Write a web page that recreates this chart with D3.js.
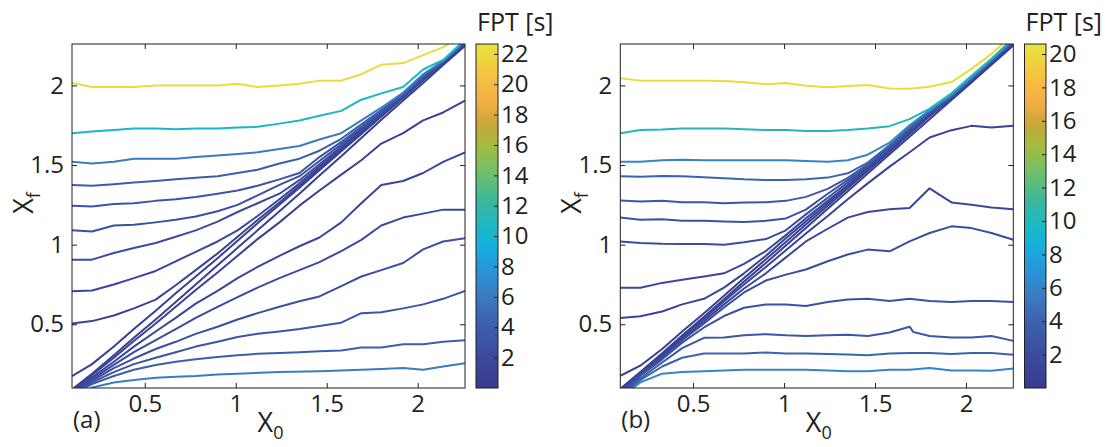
<!DOCTYPE html>
<html>
<head>
<meta charset="utf-8">
<script src="https://cdn.jsdelivr.net/npm/d3@7"></script>
<style>
  body { margin: 0; background: #fff; }
  svg text { font-family: "Open Sans", sans-serif; fill: #231f20; }
</style>
</head>
<body>
<svg id="fig" width="1113" height="447"></svg>
<script>
// ---- data: contour lines [X0, Xf] ----
// panel (a): upper branches (start on left edge) and their FPT levels
const aUpperLevels = [22, 10.5, 6, 4, 3, 2.5, 2, 1.5, 1, 0.5];
const aUpper = [
  [[0.10,2.015],[0.21,1.99],[0.33,1.99],[0.44,1.99],[0.56,2.00],[0.67,2.00],[0.78,2.00],[0.90,2.00],[1.01,2.01],[1.12,1.99],[1.24,2.00],[1.35,2.01],[1.46,2.03],[1.58,2.03],[1.69,2.07],[1.80,2.13],[1.92,2.14],[2.03,2.19],[2.14,2.24],[2.17,2.26]],
  [[0.10,1.70],[0.21,1.71],[0.33,1.72],[0.44,1.73],[0.56,1.73],[0.67,1.725],[0.78,1.73],[0.90,1.73],[1.01,1.735],[1.12,1.74],[1.24,1.76],[1.35,1.78],[1.46,1.81],[1.58,1.84],[1.69,1.91],[1.80,1.95],[1.92,1.99],[2.03,2.10],[2.14,2.16],[2.235,2.26]],
  [[0.10,1.52],[0.21,1.51],[0.33,1.52],[0.44,1.54],[0.56,1.54],[0.67,1.54],[0.78,1.55],[0.90,1.56],[1.01,1.57],[1.12,1.58],[1.24,1.60],[1.35,1.62],[1.46,1.66],[1.58,1.70],[1.69,1.78],[1.80,1.86],[1.92,1.955],[2.03,2.07],[2.14,2.155],[2.24,2.26]],
  [[0.10,1.375],[0.21,1.37],[0.33,1.38],[0.44,1.39],[0.56,1.40],[0.67,1.41],[0.78,1.42],[0.90,1.43],[1.01,1.45],[1.12,1.47],[1.24,1.51],[1.35,1.54],[1.46,1.59],[1.58,1.665],[1.69,1.755],[1.80,1.845],[1.92,1.945],[2.03,2.06],[2.14,2.152],[2.244,2.26]],
  [[0.10,1.245],[0.21,1.24],[0.33,1.256],[0.44,1.26],[0.56,1.275],[0.67,1.285],[0.78,1.30],[0.90,1.32],[1.01,1.34],[1.12,1.37],[1.24,1.41],[1.35,1.45],[1.46,1.55],[1.58,1.645],[1.69,1.74],[1.80,1.835],[1.92,1.94],[2.03,2.055],[2.14,2.15],[2.248,2.26]],
  [[0.10,1.09],[0.21,1.083],[0.33,1.12],[0.44,1.125],[0.56,1.14],[0.67,1.156],[0.78,1.177],[0.90,1.21],[1.01,1.25],[1.12,1.31],[1.24,1.375],[1.35,1.43],[1.46,1.525],[1.58,1.63],[1.69,1.73],[1.80,1.828],[1.92,1.935],[2.03,2.05],[2.14,2.148],[2.251,2.26]],
  [[0.10,0.906],[0.21,0.906],[0.33,0.948],[0.44,0.979],[0.56,1.01],[0.67,1.05],[0.78,1.09],[0.90,1.145],[1.01,1.205],[1.12,1.26],[1.24,1.32],[1.35,1.405],[1.46,1.505],[1.58,1.615],[1.69,1.72],[1.80,1.822],[1.92,1.93],[2.03,2.045],[2.14,2.146],[2.254,2.26]],
  [[0.10,0.708],[0.21,0.712],[0.33,0.75],[0.44,0.79],[0.56,0.835],[0.67,0.895],[0.78,0.955],[0.90,1.02],[1.01,1.09],[1.12,1.18],[1.24,1.285],[1.35,1.385],[1.46,1.49],[1.58,1.605],[1.69,1.71],[1.80,1.816],[1.92,1.927],[2.03,2.04],[2.14,2.144],[2.256,2.26]],
  [[0.10,0.505],[0.21,0.52],[0.33,0.555],[0.44,0.60],[0.56,0.655],[0.67,0.745],[0.78,0.84],[0.90,0.945],[1.01,1.05],[1.12,1.155],[1.24,1.265],[1.35,1.37],[1.46,1.478],[1.58,1.595],[1.69,1.70],[1.80,1.81],[1.92,1.924],[2.03,2.036],[2.14,2.142],[2.258,2.26]],
  [[0.10,0.175],[0.21,0.25],[0.33,0.36],[0.44,0.47],[0.56,0.585],[0.67,0.695],[0.78,0.80],[0.90,0.915],[1.01,1.025],[1.12,1.135],[1.24,1.25],[1.35,1.358],[1.46,1.467],[1.58,1.587],[1.69,1.695],[1.80,1.805],[1.92,1.922],[2.03,2.032],[2.14,2.141],[2.26,2.26]]
];
// panel (a): lower branches (start near bottom-left corner)
const aLowerLevels = [0.5, 1, 1.5, 2, 2.5, 3, 4, 6];
const aLower = [
  [[0.11,0.10],[0.21,0.19],[0.33,0.305],[0.44,0.415],[0.56,0.53],[0.67,0.64],[0.78,0.75],[0.90,0.87],[1.01,0.98],[1.12,1.09],[1.24,1.21],[1.35,1.32],[1.46,1.435],[1.58,1.555],[1.69,1.67],[1.80,1.785],[1.92,1.905],[2.03,2.015],[2.14,2.128],[2.26,2.248]],
  [[0.12,0.10],[0.21,0.18],[0.33,0.29],[0.44,0.395],[0.56,0.505],[0.67,0.61],[0.78,0.715],[0.90,0.825],[1.01,0.93],[1.12,1.035],[1.24,1.14],[1.35,1.245],[1.46,1.34],[1.58,1.44],[1.69,1.53],[1.80,1.635],[1.92,1.70],[2.03,1.78],[2.14,1.83],[2.26,1.905]],
  [[0.13,0.10],[0.21,0.165],[0.33,0.265],[0.44,0.36],[0.56,0.455],[0.67,0.54],[0.78,0.63],[0.90,0.71],[1.01,0.79],[1.12,0.86],[1.24,0.93],[1.35,0.99],[1.46,1.045],[1.58,1.14],[1.69,1.26],[1.80,1.375],[1.92,1.40],[2.03,1.45],[2.14,1.52],[2.26,1.58]],
  [[0.14,0.10],[0.21,0.155],[0.33,0.245],[0.44,0.325],[0.56,0.40],[0.67,0.47],[0.78,0.54],[0.90,0.61],[1.01,0.67],[1.12,0.73],[1.24,0.79],[1.35,0.84],[1.46,0.89],[1.58,0.96],[1.69,1.03],[1.80,1.12],[1.92,1.17],[2.03,1.195],[2.14,1.22],[2.26,1.22]],
  [[0.15,0.10],[0.21,0.145],[0.33,0.225],[0.44,0.285],[0.56,0.345],[0.67,0.39],[0.78,0.44],[0.90,0.485],[1.01,0.53],[1.12,0.57],[1.24,0.61],[1.35,0.645],[1.46,0.675],[1.58,0.74],[1.69,0.80],[1.80,0.84],[1.92,0.885],[2.03,0.97],[2.14,1.02],[2.26,1.04]],
  [[0.16,0.10],[0.21,0.135],[0.33,0.20],[0.44,0.25],[0.56,0.29],[0.67,0.325],[0.78,0.36],[0.90,0.39],[1.01,0.42],[1.12,0.44],[1.24,0.455],[1.35,0.47],[1.46,0.49],[1.58,0.51],[1.69,0.57],[1.80,0.575],[1.92,0.60],[2.03,0.625],[2.14,0.66],[2.26,0.71]],
  [[0.17,0.10],[0.21,0.125],[0.33,0.175],[0.44,0.215],[0.56,0.245],[0.67,0.265],[0.78,0.28],[0.90,0.295],[1.01,0.305],[1.12,0.315],[1.24,0.32],[1.35,0.325],[1.46,0.33],[1.58,0.335],[1.69,0.355],[1.80,0.355],[1.92,0.375],[2.03,0.375],[2.14,0.39],[2.26,0.40]],
  [[0.20,0.10],[0.33,0.135],[0.44,0.15],[0.56,0.165],[0.67,0.17],[0.78,0.175],[0.90,0.185],[1.01,0.19],[1.24,0.20],[1.46,0.205],[1.58,0.21],[1.80,0.22],[1.92,0.225],[2.03,0.215],[2.14,0.235],[2.26,0.255]]
];

// panel (b)
const bUpperLevels = [20, 10, 6, 4, 3, 2.5, 2, 1.5, 1, 0.5];
const bUpper = [
  [[0.10,2.045],[0.21,2.03],[0.33,2.03],[0.44,2.03],[0.56,2.03],[0.67,2.027],[0.78,2.02],[0.90,2.008],[1.01,2.015],[1.12,1.998],[1.24,1.988],[1.35,1.996],[1.46,2.002],[1.58,1.981],[1.69,1.979],[1.80,1.992],[1.92,2.021],[2.03,2.104],[2.14,2.198],[2.20,2.26]],
  [[0.10,1.70],[0.21,1.72],[0.33,1.723],[0.44,1.73],[0.56,1.73],[0.67,1.73],[0.78,1.725],[0.90,1.72],[1.01,1.72],[1.12,1.713],[1.24,1.713],[1.35,1.72],[1.46,1.73],[1.58,1.744],[1.69,1.788],[1.80,1.854],[1.92,1.95],[2.03,2.06],[2.14,2.167],[2.225,2.26]],
  [[0.10,1.52],[0.21,1.52],[0.33,1.53],[0.44,1.533],[0.56,1.53],[0.67,1.53],[0.78,1.53],[0.90,1.53],[1.01,1.53],[1.12,1.525],[1.24,1.52],[1.35,1.53],[1.46,1.565],[1.58,1.64],[1.69,1.75],[1.80,1.845],[1.92,1.94],[2.03,2.05],[2.14,2.16],[2.235,2.26]],
  [[0.10,1.43],[0.21,1.427],[0.33,1.431],[0.44,1.43],[0.56,1.423],[0.67,1.417],[0.78,1.41],[0.90,1.406],[1.01,1.406],[1.12,1.41],[1.24,1.421],[1.35,1.448],[1.46,1.515],[1.58,1.625],[1.69,1.74],[1.80,1.838],[1.92,1.936],[2.03,2.046],[2.14,2.156],[2.24,2.26]],
  [[0.10,1.277],[0.21,1.271],[0.33,1.275],[0.44,1.267],[0.56,1.267],[0.67,1.26],[0.78,1.265],[0.90,1.267],[1.01,1.275],[1.12,1.30],[1.24,1.35],[1.35,1.42],[1.46,1.505],[1.58,1.615],[1.69,1.73],[1.80,1.832],[1.92,1.933],[2.03,2.043],[2.14,2.153],[2.243,2.26]],
  [[0.10,1.17],[0.21,1.156],[0.33,1.16],[0.44,1.15],[0.56,1.15],[0.67,1.145],[0.78,1.142],[0.90,1.15],[1.01,1.165],[1.12,1.22],[1.24,1.32],[1.35,1.405],[1.46,1.495],[1.58,1.605],[1.69,1.722],[1.80,1.827],[1.92,1.93],[2.03,2.04],[2.14,2.15],[2.246,2.26]],
  [[0.10,1.02],[0.21,1.01],[0.33,1.005],[0.44,1.004],[0.56,1.004],[0.67,1.0],[0.78,1.015],[0.90,1.035],[1.01,1.09],[1.12,1.19],[1.24,1.295],[1.35,1.39],[1.46,1.487],[1.58,1.598],[1.69,1.715],[1.80,1.822],[1.92,1.927],[2.03,2.037],[2.14,2.147],[2.249,2.26]],
  [[0.10,0.73],[0.21,0.73],[0.33,0.76],[0.44,0.78],[0.56,0.80],[0.67,0.82],[0.78,0.88],[0.90,0.96],[1.01,1.06],[1.12,1.165],[1.24,1.275],[1.35,1.375],[1.46,1.478],[1.58,1.592],[1.69,1.708],[1.80,1.817],[1.92,1.925],[2.03,2.035],[2.14,2.145],[2.252,2.26]],
  [[0.10,0.54],[0.21,0.55],[0.33,0.58],[0.44,0.625],[0.56,0.66],[0.67,0.73],[0.78,0.82],[0.90,0.93],[1.01,1.04],[1.12,1.145],[1.24,1.26],[1.35,1.365],[1.46,1.47],[1.58,1.588],[1.69,1.702],[1.80,1.812],[1.92,1.923],[2.03,2.033],[2.14,2.143],[2.255,2.26]],
  [[0.10,0.177],[0.21,0.24],[0.33,0.345],[0.44,0.455],[0.56,0.57],[0.67,0.68],[0.78,0.79],[0.90,0.908],[1.01,1.017],[1.12,1.126],[1.24,1.245],[1.35,1.355],[1.46,1.464],[1.58,1.584],[1.69,1.695],[1.80,1.806],[1.92,1.921],[2.03,2.031],[2.14,2.141],[2.26,2.26]]
];
const bLowerLevels = [0.5, 1, 1.5, 2, 2.5, 3, 4, 6];
const bLower = [
  [[0.105,0.10],[0.21,0.20],[0.33,0.318],[0.44,0.43],[0.56,0.548],[0.67,0.657],[0.78,0.768],[0.90,0.885],[1.01,0.995],[1.12,1.105],[1.24,1.225],[1.35,1.335],[1.46,1.447],[1.58,1.567],[1.69,1.678],[1.80,1.788],[1.92,1.908],[2.03,2.018],[2.14,2.13],[2.26,2.25]],
  [[0.11,0.10],[0.21,0.195],[0.33,0.31],[0.44,0.42],[0.56,0.535],[0.67,0.645],[0.78,0.75],[0.90,0.86],[1.01,0.965],[1.12,1.07],[1.24,1.18],[1.35,1.285],[1.46,1.385],[1.58,1.49],[1.69,1.58],[1.80,1.673],[1.92,1.719],[2.03,1.746],[2.14,1.735],[2.26,1.746]],
  [[0.12,0.10],[0.21,0.19],[0.33,0.30],[0.44,0.41],[0.56,0.52],[0.67,0.625],[0.78,0.725],[0.90,0.82],[1.01,0.92],[1.12,1.02],[1.24,1.10],[1.35,1.17],[1.46,1.205],[1.58,1.222],[1.69,1.23],[1.80,1.354],[1.92,1.265],[2.03,1.25],[2.14,1.233],[2.26,1.223]],
  [[0.13,0.10],[0.21,0.185],[0.33,0.29],[0.44,0.40],[0.56,0.505],[0.67,0.605],[0.78,0.70],[0.90,0.775],[1.01,0.812],[1.12,0.844],[1.24,0.896],[1.35,0.938],[1.46,0.969],[1.58,0.958],[1.69,1.021],[1.80,1.073],[1.92,1.115],[2.03,1.104],[2.14,1.073],[2.26,1.031]],
  [[0.14,0.10],[0.21,0.175],[0.33,0.28],[0.44,0.385],[0.56,0.48],[0.67,0.552],[0.78,0.604],[0.90,0.625],[1.01,0.625],[1.12,0.615],[1.24,0.64],[1.35,0.656],[1.46,0.66],[1.58,0.646],[1.69,0.66],[1.80,0.646],[1.92,0.64],[2.03,0.646],[2.14,0.646],[2.26,0.64]],
  [[0.15,0.10],[0.21,0.16],[0.33,0.26],[0.44,0.35],[0.56,0.415],[0.67,0.417],[0.78,0.431],[0.90,0.438],[1.01,0.431],[1.12,0.427],[1.24,0.431],[1.35,0.435],[1.46,0.427],[1.58,0.448],[1.69,0.485],[1.71,0.452],[1.80,0.427],[1.92,0.417],[2.03,0.417],[2.14,0.427],[2.26,0.396]],
  [[0.16,0.10],[0.21,0.15],[0.33,0.235],[0.44,0.29],[0.56,0.317],[0.67,0.317],[0.78,0.317],[0.90,0.323],[1.01,0.317],[1.12,0.317],[1.24,0.313],[1.35,0.31],[1.46,0.306],[1.58,0.317],[1.69,0.319],[1.80,0.319],[1.92,0.313],[2.03,0.319],[2.14,0.319],[2.26,0.309]],
  [[0.17,0.10],[0.21,0.135],[0.33,0.19],[0.44,0.20],[0.56,0.205],[0.67,0.21],[0.78,0.215],[0.90,0.215],[1.01,0.215],[1.12,0.215],[1.24,0.21],[1.35,0.205],[1.46,0.205],[1.58,0.215],[1.69,0.215],[1.80,0.225],[1.92,0.21],[2.03,0.21],[2.14,0.208],[2.26,0.222]]
];

// ticks
const axisTicks = [0.5, 1, 1.5, 2];
const cbTicksA = [2, 4, 6, 8, 10, 12, 14, 16, 18, 20, 22];
const cbTicksB = [2, 4, 6, 8, 10, 12, 14, 16, 18, 20];

// colour map (parula-like, as printed)
const cmapStops = [0, 0.09, 0.18, 0.27, 0.35, 0.41, 0.46, 0.54, 0.62, 0.70, 0.77, 0.83, 0.90, 1];
const cmapColors = ["#383b8e", "#3b4a9d", "#3b5fab", "#3c7cc2", "#2597d9", "#17afde", "#19b7c9",
                    "#39b89e", "#6cbf6c", "#a0bd42", "#c9a739", "#f4ad45", "#f6c042", "#e8e43c"];
const cmap = d3.scaleLinear().domain(cmapStops).range(cmapColors).interpolate(d3.interpolateRgb).clamp(true);

const svg = d3.select("#fig");
const defs = svg.append("defs");

// gradient for colour bars
const grad = defs.append("linearGradient").attr("id", "cbgrad")
  .attr("x1", 0).attr("y1", 1).attr("x2", 0).attr("y2", 0);
d3.range(0, 1.0001, 0.02).forEach(t => {
  grad.append("stop").attr("offset", t).attr("stop-color", cmap(t));
});

const plotTop = 44, plotBottom = 388;
const y = d3.scaleLinear().domain([0.1, 2.26]).range([plotBottom, plotTop]);

function drawPanel(p) {
  const x = d3.scaleLinear().domain([0.1, 2.26]).range([p.left, p.right]);
  const g = svg.append("g");

  defs.append("clipPath").attr("id", "clip" + p.tag)
    .append("rect").attr("x", p.left).attr("y", plotTop)
    .attr("width", p.right - p.left).attr("height", plotBottom - plotTop);

  const line = d3.line().x(d => x(d[0])).y(d => y(d[1]));
  const c = v => cmap(v / p.cbMax);

  const lines = g.append("g").attr("clip-path", `url(#clip${p.tag})`);
  const all = p.lower.map((pts, i) => ({ pts, lev: p.lowerLevels[i] }))
    .concat(p.upper.map((pts, i) => ({ pts, lev: p.upperLevels[i] })))
    .sort((a, b) => a.lev - b.lev);
  lines.selectAll("path").data(all).join("path")
    .attr("d", d => line(d.pts))
    .attr("fill", "none")
    .attr("stroke", d => c(d.lev))
    .attr("stroke-width", 2)
    .attr("stroke-linejoin", "round");

  // box
  g.append("rect").attr("x", p.left).attr("y", plotTop)
    .attr("width", p.right - p.left).attr("height", plotBottom - plotTop)
    .attr("fill", "none").attr("stroke", "#231f20").attr("stroke-width", 1);

  const fmt = d => String(d);
  const style = sel => {
    sel.select(".domain").remove();
    sel.selectAll(".tick line").attr("stroke", "#231f20");
    sel.selectAll(".tick text").attr("fill", "#231f20")
      .style("font-family", '"Open Sans", sans-serif').style("font-size", "24px");
  };
  g.append("g").attr("transform", `translate(0,${plotBottom})`)
    .call(d3.axisBottom(x).tickValues(axisTicks).tickFormat(fmt).tickSize(-5).tickPadding(7)).call(style);
  g.append("g").attr("transform", `translate(0,${plotTop})`)
    .call(d3.axisTop(x).tickValues(axisTicks).tickFormat("").tickSize(-5)).call(style);
  g.append("g").attr("transform", `translate(${p.left},0)`)
    .call(d3.axisLeft(y).tickValues(axisTicks).tickFormat(fmt).tickSize(-5).tickPadding(8)).call(style);
  g.append("g").attr("transform", `translate(${p.right},0)`)
    .call(d3.axisRight(y).tickValues(axisTicks).tickFormat("").tickSize(-5)).call(style);

  // axis labels
  const xl = g.append("text").attr("x", (p.left + p.right) / 2 + 2).attr("y", 432)
    .attr("text-anchor", "middle").style("font-size", "27px");
  xl.append("tspan").text("X");
  xl.append("tspan").attr("dy", 7).style("font-size", "18px").text("0");

  const yl = g.append("text")
    .attr("transform", `translate(${p.left - 39},${203}) rotate(-90)`)
    .attr("text-anchor", "middle").style("font-size", "27px");
  yl.append("tspan").text("X");
  yl.append("tspan").attr("dy", 7).style("font-size", "18px").text("f");

  g.append("text").attr("x", p.left + 1).attr("y", 428)
    .style("font-size", "24px").text(p.tag === "a" ? "(a)" : "(b)");

  // colour bar
  const cy = d3.scaleLinear().domain([0, p.cbMax]).range([plotBottom, plotTop]);
  g.append("rect").attr("x", p.cbLeft).attr("y", plotTop)
    .attr("width", p.cbWidth).attr("height", plotBottom - plotTop)
    .attr("fill", "url(#cbgrad)").attr("stroke", "#231f20").attr("stroke-width", 1);
  g.append("g").attr("transform", `translate(${p.cbLeft + p.cbWidth},0)`)
    .call(d3.axisRight(cy).tickValues(p.cbTicks).tickFormat(fmt).tickSize(-4).tickPadding(3)).call(style);
  g.append("text").attr("x", p.cbLeft + 1).attr("y", 31)
    .style("font-size", "25px").text("FPT [s]");
}

drawPanel({ tag: "a", left: 72, right: 465, cbLeft: 476, cbWidth: 22, cbMax: 22.65, cbTicks: cbTicksA,
  upper: aUpper, upperLevels: aUpperLevels, lower: aLower, lowerLevels: aLowerLevels });
drawPanel({ tag: "b", left: 620.3, right: 1013.3, cbLeft: 1024.5, cbWidth: 21.5, cbMax: 20.6, cbTicks: cbTicksB,
  upper: bUpper, upperLevels: bUpperLevels, lower: bLower, lowerLevels: bLowerLevels });
</script>
</body>
</html>
